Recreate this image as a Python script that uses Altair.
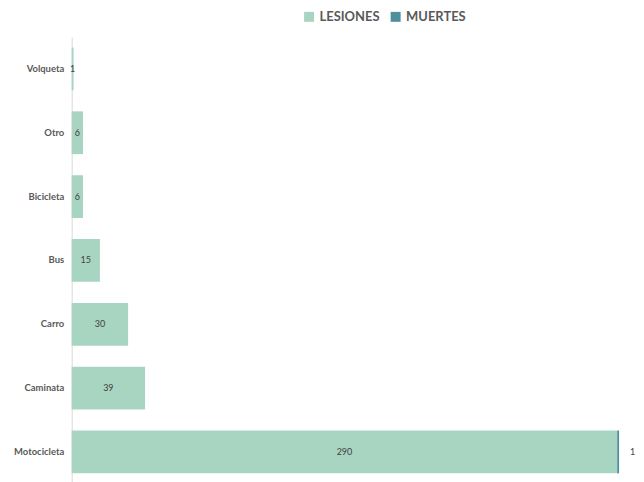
import altair as alt
import pandas as pd

categories = ["Volqueta", "Otro", "Bicicleta", "Bus", "Carro", "Caminata", "Motocicleta"]
lesiones = [1, 6, 6, 15, 30, 39, 290]
muertes = [0, 0, 0, 0, 0, 0, 1]
series = ["LESIONES", "MUERTES"]
colors = ["#A8D5C2", "#4E8F9C"]

rows = []
for c, l, m in zip(categories, lesiones, muertes):
    rows.append({"cat": c, "serie": "LESIONES", "val": l, "start": 0, "end": l, "ord": 0})
    rows.append({"cat": c, "serie": "MUERTES", "val": m, "start": l, "end": l + m, "ord": 1})
df = pd.DataFrame(rows)

font = "Lato"
yenc = alt.Y("cat:N", sort=categories, title=None,
             scale=alt.Scale(paddingInner=0.33, paddingOuter=0.165),
             axis=alt.Axis(ticks=False, domainColor="#D9D9D9", labelFontWeight="bold",
                           labelColor="#595959", labelFontSize=9.5, labelFont=font, labelPadding=8))
xscale = alt.Scale(domain=[0, 300], nice=False)

bars = alt.Chart(df).mark_bar().encode(
    y=yenc,
    x=alt.X("start:Q", scale=xscale, axis=None),
    x2="end:Q",
    color=alt.Color("serie:N", scale=alt.Scale(domain=series, range=colors),
                    legend=alt.Legend(title=None, orient="none", legendX=232, legendY=-27,
                                      direction="horizontal", symbolType="square", symbolSize=100,
                                      symbolStrokeWidth=0, labelFontSize=13, labelFontWeight="bold",
                                      labelColor="#595959", labelFont=font, columnPadding=9)),
)

lab_les = alt.Chart(df).transform_filter("datum.serie == 'LESIONES'").transform_calculate(
    mid="datum.val / 2").mark_text(fontSize=9, color="#404040", font=font).encode(
    y=alt.Y("cat:N", sort=categories), x=alt.X("mid:Q", scale=xscale), text="val:Q")

lab_mue = alt.Chart(df).transform_filter("datum.serie == 'MUERTES' && datum.val > 0").mark_text(
    fontSize=9, color="#404040", font=font, align="left", dx=11).encode(
    y=alt.Y("cat:N", sort=categories), x=alt.X("end:Q", scale=xscale), text="val:Q")

chart = alt.layer(bars, lab_les, lab_mue).properties(
    width=567, height=449, autosize="none",
    padding={"left": 64, "top": 28, "right": 0, "bottom": 0},
).configure_view(stroke=None)

chart.save("out.html", embed_options={"renderer": "svg", "actions": False})
